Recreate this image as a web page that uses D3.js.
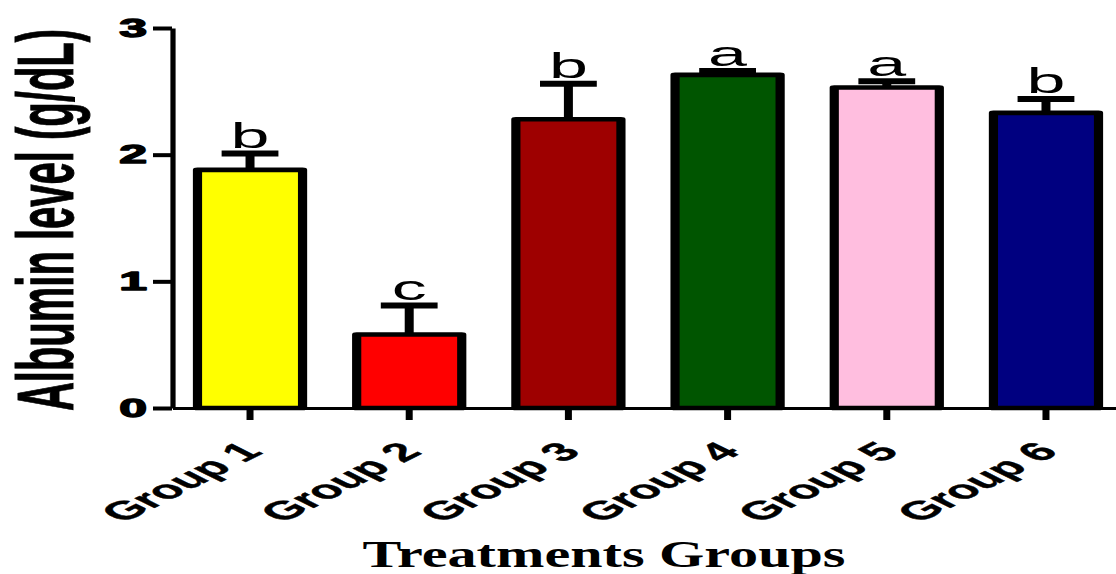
<!DOCTYPE html>
<html>
<head>
<meta charset="utf-8">
<script src="https://cdn.jsdelivr.net/npm/d3@7"></script>
<style>
  html, body { margin: 0; padding: 0; background: #ffffff; }
  svg { display: block; }
</style>
</head>
<body>
<script>
// Serum albumin per treatment group (mean + upper SEM), with significance letters
const groups = ["Group 1", "Group 2", "Group 3", "Group 4", "Group 5", "Group 6"];
const albumin = [1.88, 0.58, 2.28, 2.63, 2.53, 2.33];
const sem = [0.13, 0.23, 0.28, 0.03, 0.05, 0.11];
const letters = ["b", "c", "b", "a", "a", "b"];
const barColors = ["#FFFF00", "#FF0000", "#9E0000", "#005500", "#FFBEDF", "#000080"];
const yTicks = [0, 1, 2, 3];
const yTitle = "Albumin level (g/dL)";
const xTitle = "Treatments Groups";

const W = 1116, H = 574;
const sx = 2;               // the figure is drawn in a narrow frame and widened horizontally
const innerW = W / sx;

const svg = d3.select("body").append("svg")
  .attr("width", W).attr("height", H)
  .attr("viewBox", `0 0 ${W} ${H}`);

const g = svg.append("g").attr("transform", `scale(${sx},1)`);

const y = d3.scaleLinear().domain([0, 3]).range([408, 28]);
const x = d3.scaleBand()
  .domain(groups)
  .range([86, innerW])
  .paddingInner(0.34)
  .paddingOuter(0.135)
  .align(0.593);

const sans = "'Liberation Sans', Arial, sans-serif";
const serif = "'Liberation Serif', 'Times New Roman', serif";

// bars
const rows = groups.map((grp, i) => ({ grp, v: albumin[i], e: sem[i], lab: letters[i], c: barColors[i] }));

g.selectAll("rect.bar").data(rows).join("rect")
  .attr("class", "bar")
  .attr("x", d => x(d.grp))
  .attr("width", x.bandwidth())
  .attr("y", d => y(d.v))
  .attr("height", d => y(0) - y(d.v))
  .attr("fill", d => d.c)
  .attr("stroke", "#000")
  .attr("stroke-width", 4.6)
  .attr("stroke-linejoin", "round");

// upper error bars
const cx = d => x(d.grp) + x.bandwidth() / 2;
g.selectAll("line.stem").data(rows).join("line")
  .attr("class", "stem")
  .attr("x1", cx).attr("x2", cx)
  .attr("y1", d => y(d.v)).attr("y2", d => y(d.v + d.e))
  .attr("stroke", "#000").attr("stroke-width", 4.5);

g.selectAll("line.cap").data(rows).join("line")
  .attr("class", "cap")
  .attr("x1", d => cx(d) - 14.2).attr("x2", d => cx(d) + 14.2)
  .attr("y1", d => y(d.v + d.e)).attr("y2", d => y(d.v + d.e))
  .attr("stroke", "#000").attr("stroke-width", 6);

// significance letters
g.selectAll("text.sig").data(rows).join("text")
  .attr("class", "sig")
  .attr("x", cx)
  .attr("y", d => y(d.v + d.e) - 5.5)
  .attr("text-anchor", "middle")
  .attr("font-family", sans)
  .attr("font-size", 35)
  .attr("fill", "#000")
  .text(d => d.lab);

// y axis
const yAxis = g.append("g")
  .attr("transform", "translate(86,0)")
  .call(d3.axisLeft(y).tickValues(yTicks).tickFormat(d3.format("d"))
    .tickSize(9.5).tickSizeOuter(0).tickPadding(3));
yAxis.select(".domain").attr("stroke", "#000").attr("stroke-width", 2.6);
yAxis.selectAll(".tick line").attr("stroke", "#000").attr("stroke-width", 4);
yAxis.selectAll(".tick text")
  .attr("font-family", sans).attr("font-size", 25).attr("font-weight", "bold")
  .attr("fill", "#000").attr("stroke", "#000").attr("stroke-width", 1.3)
  .attr("stroke-linejoin", "round");

// x axis
const xAxis = g.append("g")
  .attr("transform", `translate(0,${y(0)})`)
  .call(d3.axisBottom(x).tickSize(12).tickSizeOuter(0));
xAxis.select(".domain").attr("stroke", "#000").attr("stroke-width", 3);
xAxis.selectAll(".tick line").attr("stroke", "#000").attr("stroke-width", 3.5);
xAxis.selectAll(".tick text")
  .attr("x", 0).attr("y", 0).attr("dy", 0)
  .attr("text-anchor", "end")
  .attr("transform", "translate(7,45) rotate(-45)")
  .attr("font-family", sans).attr("font-size", 26).attr("font-weight", "bold")
  .attr("fill", "#000").attr("stroke", "#000").attr("stroke-width", 0.4);

// axis titles
g.append("text")
  .attr("transform", "translate(36.5,220) rotate(-90)")
  .attr("text-anchor", "middle")
  .attr("font-family", sans).attr("font-size", 40).attr("font-weight", "bold")
  .attr("fill", "#000").attr("stroke", "#000").attr("stroke-width", 0.5)
  .text(yTitle);

g.append("text")
  .attr("x", 302).attr("y", 567)
  .attr("text-anchor", "middle")
  .attr("font-family", serif).attr("font-size", 38).attr("font-weight", "bold")
  .attr("textLength", 241.5).attr("lengthAdjust", "spacingAndGlyphs")
  .attr("fill", "#000")
  .text(xTitle);
</script>
</body>
</html>
